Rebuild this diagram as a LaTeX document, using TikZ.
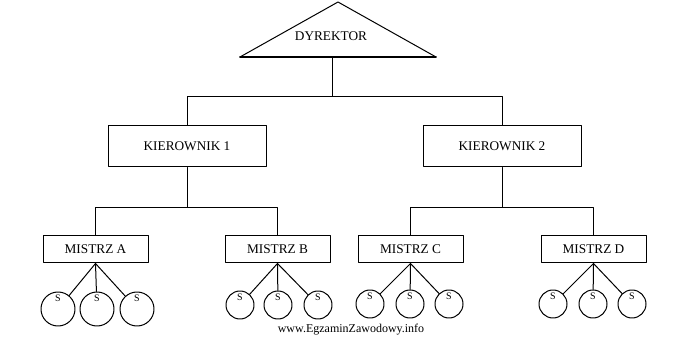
\documentclass[tikz,border=0pt]{standalone}
\usepackage{fontspec}
\setmainfont{Liberation Serif}
\usetikzlibrary{positioning}
\tikzset{
  lb/.style={inner sep=1pt,font=\fontsize{13.3}{15}\selectfont},
  kbox/.style={lb,draw,fill=white,minimum width=158pt,minimum height=41pt},
  mbox/.style={lb,draw,fill=white,minimum width=105pt,minimum height=27pt},
  sv/.style={circle,draw,inner sep=0pt,minimum size=#1,
             label={[anchor=north,inner sep=3pt,font=\fontsize{10}{11}\selectfont]north:S}},
  sv/.default=28pt,
  every picture/.style={line cap=round,line join=round}}

\begin{document}
\begin{tikzpicture}[x=1pt,y=-1pt,line width=1pt]
  \useasboundingbox (0,0) rectangle (673,342);
  % dyrektor
  \coordinate (dl) at (240,57); \coordinate (dt) at (338,2); \coordinate (dr) at (436,57);
  \draw (dl) -- (dt) -- (dr); \draw[line width=1.8pt] (dl) -- (dr);
  \node[lb] (dyr) at (331,36) {DYREKTOR};
  \coordinate (d0) at (332,57); \coordinate (j0) at (332,97);
  % kierownicy
  \node[kbox] (k1) at (187,146.5) {KIEROWNIK 1}; \node[kbox] (k2) at (502,146.5) {KIEROWNIK 2};
  \draw (d0) -- (j0) -| (k1); \draw (j0) -| (k2);
  \coordinate (j1) at (187,208); \coordinate (j2) at (502,208);
  % mistrzowie
  \node[mbox] (mA) at (95.5,249.5) {MISTRZ A}; \node[mbox] (mB) at (277.5,249.5) {MISTRZ B};
  \node[mbox] (mC) at (410.5,249.5) {MISTRZ C}; \node[mbox] (mD) at (593.5,249.5) {MISTRZ D};
  \draw (k1) -- (j1) -| (mA); \draw (j1) -| (mB);
  \draw (k2) -- (j2) -| (mC); \draw (j2) -| (mD);
  % stanowiska
  \foreach \m/\a/\b/\c/\y/\d in {A/58/97/137/309/34pt, B/240/278/318/305/28pt,
                                 C/370/410/449/304/28pt, D/553/593/632/304/28pt}{
    \foreach \x [count=\i] in {\a,\b,\c}{
      \node[sv=\d] (s\m\i) at (\x,\y) {};
      \draw (m\m.south) -- (s\m\i);
    }
  }
  \node[font=\fontsize{12}{14}\selectfont] (www) at (351,330) {www.EgzaminZawodowy.info};
\end{tikzpicture}
\end{document}
